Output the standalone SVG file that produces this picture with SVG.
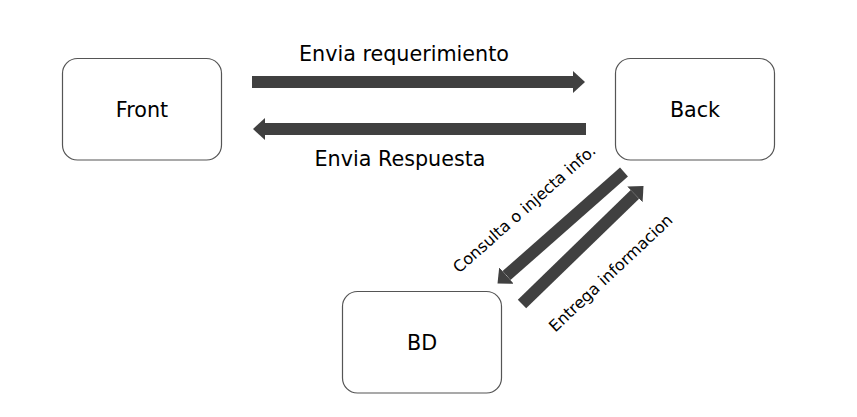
<svg xmlns="http://www.w3.org/2000/svg" width="857" height="417" viewBox="0 0 857 417">
<style>
.box{fill:#fff;stroke:#555;stroke-width:1.2}
.lbl{font-family:"DejaVu Sans",sans-serif;font-size:20.7px;fill:#000}
.sm{font-family:"DejaVu Sans",sans-serif;font-size:16px;fill:#000}
.arr{stroke:#404040;stroke-width:12;fill:none;marker-end:url(#head)}
</style>
<defs>
<marker id="head" markerUnits="userSpaceOnUse" viewBox="0 0 12 22" markerWidth="12" markerHeight="22" refX="0" refY="11" orient="auto">
<path d="M0,0 L12,11 L0,22 Z" fill="#404040"/>
</marker>
</defs>
<rect width="857" height="417" fill="#fff"/>
<g id="front"><rect class="box" x="62.5" y="58.5" width="159" height="101.5" rx="15"/><text class="lbl" x="142" y="116.5" text-anchor="middle">Front</text></g>
<g id="back"><rect class="box" x="615.5" y="58.5" width="159" height="101.5" rx="15"/><text class="lbl" x="695" y="116.5" text-anchor="middle">Back</text></g>
<g id="bd"><rect class="box" x="342.5" y="291.5" width="159" height="101.5" rx="15"/><text class="lbl" x="422" y="350" text-anchor="middle">BD</text></g>
<g id="connectors">
<line class="arr" x1="252" y1="82" x2="573" y2="82"/>
<line class="arr" x1="586" y1="129" x2="265" y2="129"/>
<line class="arr" x1="624" y1="172" x2="506.5" y2="275.6"/>
<line class="arr" x1="522" y1="304" x2="634.9" y2="194.4"/>
<text class="lbl" x="404" y="60.5" text-anchor="middle">Envia requerimiento</text>
<text class="lbl" x="400" y="166" text-anchor="middle">Envia Respuesta</text>
<text class="sm" x="528" y="213" text-anchor="middle" transform="rotate(-41.4 528 213)">Consulta o injecta info.</text>
<text class="sm" x="614.5" y="277" text-anchor="middle" transform="rotate(-43.2 614.5 277)">Entrega informacion</text>
</g>
</svg>
